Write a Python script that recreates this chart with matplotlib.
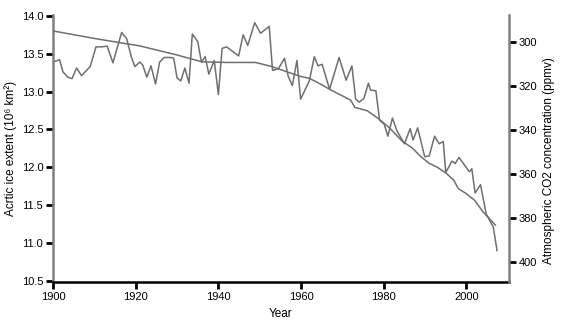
import matplotlib.pyplot as plt

plt.rcParams['font.family'] = ['Liberation Sans', 'DejaVu Sans']

# Arctic sea ice extent (10^6 km^2)
ice_year = [1900, 1901.6, 1902.4, 1903.6, 1904.6, 1905.7, 1906.9, 1909.0, 1910.4, 1911.8,
            1913.1, 1914.5, 1916.6, 1917.8, 1919.0, 1919.8, 1921.0, 1921.7, 1922.7, 1923.7,
            1924.8, 1925.8, 1926.9, 1928.5, 1929.2, 1930.0, 1930.9, 1931.9, 1932.9, 1933.7,
            1935.0, 1935.9, 1936.8, 1937.7, 1939.0, 1940.0, 1940.9, 1942.0, 1944.9, 1946.0,
            1947.1, 1948.8, 1950.2, 1952.3, 1953.1, 1954.5, 1956.0, 1956.9, 1957.9, 1959.0,
            1959.9, 1962.0, 1963.2, 1964.1, 1965.1, 1966.9, 1969.2, 1970.9, 1972.3, 1973.2,
            1974.1, 1975.2, 1976.3, 1976.8, 1978.1, 1979.0, 1980.1, 1981.0, 1982.1, 1983.2,
            1985.0, 1986.4, 1987.1, 1988.2, 1989.9, 1991.0, 1992.3, 1993.4, 1994.4, 1995.0,
            1996.5, 1997.3, 1998.2, 2000.7, 2001.3, 2002.1, 2003.4, 2004.8, 2006.5, 2007.4]
ice_extent = [13.39, 13.42, 13.26, 13.19, 13.17, 13.31, 13.21, 13.33, 13.59, 13.59,
              13.60, 13.38, 13.78, 13.70, 13.45, 13.33, 13.39, 13.35, 13.19, 13.34,
              13.10, 13.39, 13.45, 13.45, 13.44, 13.18, 13.14, 13.31, 13.11, 13.76,
              13.66, 13.39, 13.46, 13.23, 13.41, 12.96, 13.57, 13.59, 13.47, 13.75,
              13.61, 13.91, 13.77, 13.86, 13.28, 13.30, 13.44, 13.20, 13.08, 13.41,
              12.90, 13.14, 13.46, 13.34, 13.36, 13.03, 13.45, 13.15, 13.34, 12.90,
              12.86, 12.91, 13.11, 13.02, 13.01, 12.62, 12.57, 12.41, 12.65, 12.48,
              12.31, 12.51, 12.36, 12.52, 12.14, 12.15, 12.41, 12.31, 12.34, 11.93,
              12.08, 12.05, 12.13, 11.94, 11.98, 11.66, 11.77, 11.38, 11.21, 10.90]

# Atmospheric CO2 (ppmv)
co2_year = [1900, 1910, 1921, 1930, 1936, 1942, 1949, 1953, 1956.5, 1960, 1962, 1965, 1967,
            1972, 1973, 1976, 1979, 1981.5, 1984.4, 1987, 1989, 1991, 1993, 1995.3, 1997,
            1998, 2000, 2002, 2004, 2007]
co2_ppmv = [295.1, 298.5, 301.9, 306.0, 309.1, 309.4, 309.4, 311.3, 313.6, 315.8, 316.6,
            319.5, 321.7, 326.5, 329.8, 331.3, 335.3, 339.3, 345.0, 348.4, 352.2, 355.2,
            357.0, 360.0, 363.0, 366.6, 369.0, 372.0, 377.2, 383.2]

line_color = '#6f6f6f'

fig = plt.figure(figsize=(5.65, 3.28), dpi=100)
ax = fig.add_axes([0.0938, 0.140, 0.8071, 0.814])
ax2 = ax.twinx()

ax.plot(ice_year, ice_extent, color=line_color, lw=1.1)
ax2.plot(co2_year, co2_ppmv, color=line_color, lw=1.1)

ax.set_xlim(1900, 2010.3)
ax.set_ylim(10.483, 14.01)
ax2.set_ylim(409.1, 287.9)

ax.set_xticks([1900, 1920, 1940, 1960, 1980, 2000])
ax.set_yticks([10.5, 11.0, 11.5, 12.0, 12.5, 13.0, 13.5, 14.0])
ax.set_yticklabels(['10.5', '11.0', '11.5', '12.0', '12.5', '13.0', '13.5', '14.0'])
ax2.set_yticks([300, 320, 340, 360, 380, 400])

for a in (ax, ax2):
    a.spines['top'].set_visible(False)
    a.tick_params(labelsize=8, width=2, length=5, color='black', pad=2)

ax.spines['left'].set_color('#808080')
ax.spines['left'].set_linewidth(1.8)
ax.spines['bottom'].set_color('black')
ax.spines['bottom'].set_linewidth(1.8)
ax.spines['right'].set_visible(False)
ax2.spines['left'].set_visible(False)
ax2.spines['bottom'].set_visible(False)
ax2.spines['right'].set_color('#808080')
ax2.spines['right'].set_linewidth(1.8)

ax.set_xlabel('Year', fontsize=8.5)
ax.set_ylabel('Acrtic ice extent (10⁶ km²)', fontsize=8.5)
ax2.set_ylabel('Atmospheric CO2 concentration (ppmv)', fontsize=8.5)
ax.xaxis.set_label_coords(0.5, -0.098)
ax.yaxis.set_label_coords(-0.078, 0.50)
ax2.yaxis.set_label_coords(1.075, 0.457)

fig.savefig('out.png', dpi=100)
